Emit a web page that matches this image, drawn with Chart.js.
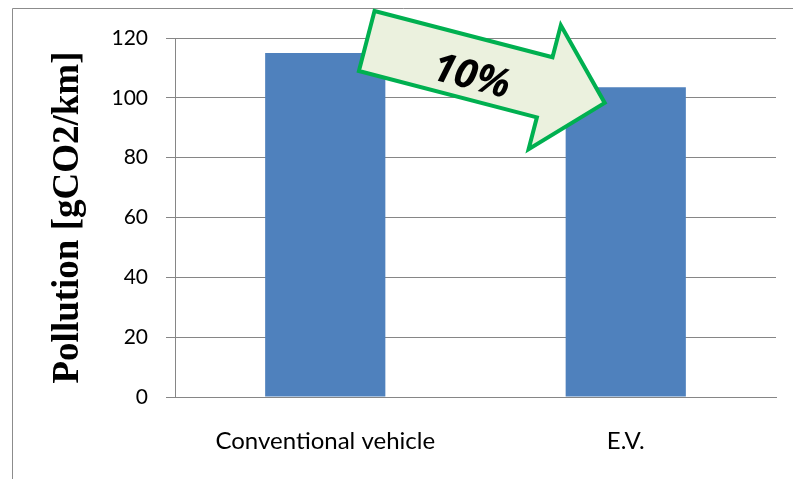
<!DOCTYPE html>
<html>
<head>
<meta charset="utf-8">
<script src="https://cdn.jsdelivr.net/npm/chart.js@4/dist/chart.umd.min.js"></script>
<style>
    html, body { margin: 0; padding: 0; background: #fff; overflow: hidden; }
</style>
</head>
<body>
<canvas id="chartPollution" width="793" height="479"></canvas>
<script>
// data
const categories = ['Conventional vehicle', 'E.V.']
const pollution = [115, 103.5]
const yTicks = [0, 20, 40, 60, 80, 100, 120]
const arrowLabel = '10%'

// frame around the chart
const framePlugin = {
    id: 'frame',
    beforeDraw(chart) {
        const ctx = chart.ctx
        ctx.save()
        ctx.strokeStyle = '#8c8c8c'
        ctx.lineWidth = 1
        ctx.beginPath()
        ctx.moveTo(12.5, chart.height + 2)
        ctx.lineTo(12.5, 8.5)
        ctx.lineTo(chart.width + 2, 8.5)
        ctx.stroke()
        ctx.restore()
    }
}

// green "10%" arrow from one bar to the other
const arrowPlugin = {
    id: 'arrow',
    afterDatasetsDraw(chart) {
        const x = chart.scales.x
        const y = chart.scales.y
        const cat = x.getPixelForValue(1) - x.getPixelForValue(0)
        const x0 = x.getPixelForValue(0) + 0.138 * cat
        const y0 = y.getPixelForValue(119)
        const x1 = x.getPixelForValue(1) - 0.07 * cat
        const y1 = y.getPixelForValue(98.3)
        const ang = Math.atan2(y1 - y0, x1 - x0)
        const len = Math.hypot(x1 - x0, y1 - y0)
        const shaft = 31, head = 64, headLen = 62
        const ctx = chart.ctx
        ctx.save()
        ctx.translate(x0, y0)
        ctx.rotate(ang)
        ctx.beginPath()
        ctx.moveTo(0, -shaft)
        ctx.lineTo(len - headLen, -shaft)
        ctx.lineTo(len - headLen, -head)
        ctx.lineTo(len, 0)
        ctx.lineTo(len - headLen, head)
        ctx.lineTo(len - headLen, shaft)
        ctx.lineTo(0, shaft)
        ctx.closePath()
        ctx.fillStyle = '#ebf1de'
        ctx.fill()
        ctx.lineWidth = 4
        ctx.lineJoin = 'miter'
        ctx.strokeStyle = '#00b050'
        ctx.stroke()
        ctx.fillStyle = '#000'
        ctx.font = 'italic bold 40px "Open Sans", sans-serif'
        ctx.textAlign = 'center'
        ctx.textBaseline = 'middle'
        ctx.fillText(arrowLabel, (len - headLen) * 0.6, 9)
        ctx.restore()
    }
}

var ctx = document.getElementById('chartPollution').getContext('2d')
var chart = new Chart(ctx, {
    type: 'bar',
    data: {
        labels: categories,
        datasets: [{
            label: 'Pollution',
            data: pollution,
            backgroundColor: '#4f81bd',
            categoryPercentage: 1,
            barPercentage: 0.4
        }]
    },
    options: {
        responsive: false,
        animation: false,
        devicePixelRatio: 1,
        layout: { padding: { left: 20, top: 38, right: 17, bottom: 0 } },
        plugins: {
            legend: { display: false },
            tooltip: { enabled: false }
        },
        scales: {
            x: {
                grid: { display: false },
                border: { display: true, color: '#868686', width: 1 },
                ticks: {
                    color: '#000',
                    padding: 22,
                    font: { family: 'Lato, "Open Sans", sans-serif', size: 24 }
                },
                afterFit: s => { s.height = 82 }
            },
            y: {
                min: 0,
                max: 120,
                afterBuildTicks: s => { s.ticks = yTicks.map(v => ({ value: v })) },
                grid: { color: '#868686', tickLength: 9, drawTicks: true },
                border: { display: true, color: '#868686', width: 1 },
                ticks: {
                    color: '#000',
                    padding: 18,
                    font: { family: 'Lato, "Open Sans", sans-serif', size: 21 }
                },
                title: {
                    display: true,
                    text: 'Pollution [gCO2/km]',
                    color: '#000',
                    font: { family: '"Liberation Serif", serif', size: 37, weight: 'bold' },
                    padding: { top: 26, bottom: 0 }
                },
                afterFit: s => { s.width = 155 }
            }
        }
    },
    plugins: [framePlugin, arrowPlugin]
})
</script>
</body>
</html>
